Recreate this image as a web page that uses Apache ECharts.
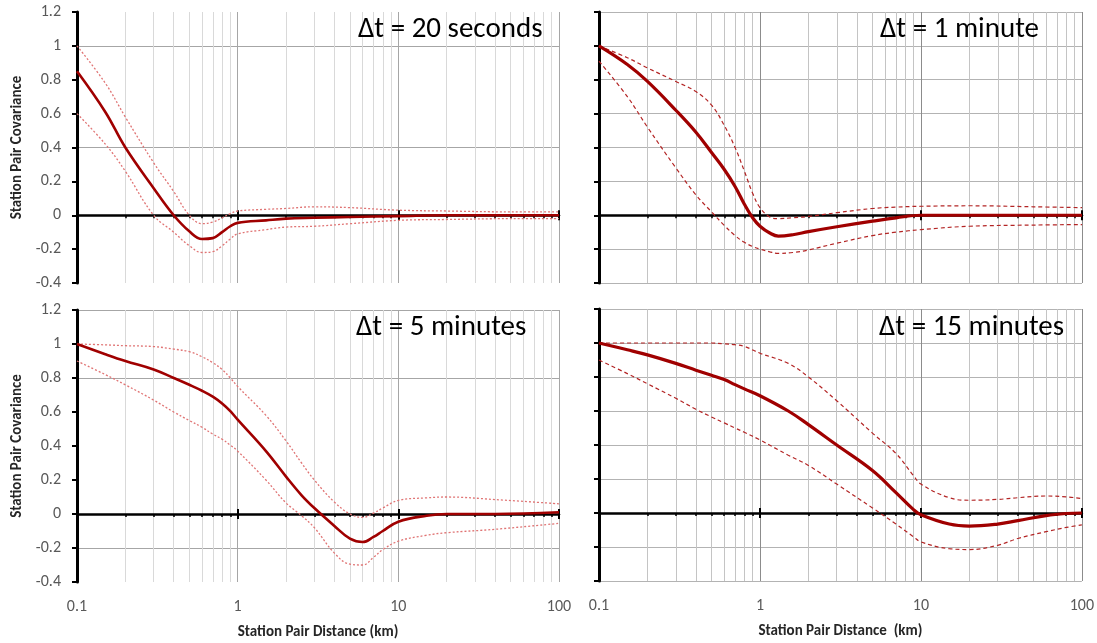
<!DOCTYPE html>
<html>
<head>
<meta charset="utf-8">
<title>Station Pair Covariance</title>
<script src="https://cdn.jsdelivr.net/npm/echarts@6/dist/echarts.min.js"></script>
<style>
  html, body { margin: 0; padding: 0; background: #fff; }
  #chart { width: 1097px; height: 643px; }
</style>
</head>
<body>
<div id="chart"></div>
<script>
// ---- data ----
var xRange = [0.1, 100];
var yRange = [-0.4, 1.2];
var yStep = 0.2;

var panelTitles = ['\u0394t = 20 seconds', '\u0394t = 1 minute', '\u0394t = 5 minutes', '\u0394t = 15 minutes'];
var xAxisTitles = ['Station Pair Distance (km)', 'Station Pair Distance  (km)'];
var yAxisTitle = 'Station Pair Covariance';

// dt = 20 seconds
var distA  = [0.1, 0.15, 0.2, 0.3, 0.4, 0.5, 0.6, 0.7, 0.8, 0.9, 1, 1.5, 2, 3, 5, 10, 20, 50, 100];
var mainA  = [0.85, 0.61, 0.40, 0.16, 0.0, -0.095, -0.14, -0.135, -0.10, -0.065, -0.045, -0.03, -0.02, -0.015, -0.01, -0.005, 0, 0, 0];
var upperA = [1.0, 0.78, 0.58, 0.31, 0.14, 0.0, -0.05, -0.04, -0.015, 0.01, 0.025, 0.035, 0.04, 0.05, 0.045, 0.03, 0.025, 0.02, 0.02];
var lowerA = [0.6, 0.42, 0.26, 0.0, -0.10, -0.18, -0.22, -0.215, -0.18, -0.14, -0.11, -0.085, -0.07, -0.065, -0.05, -0.03, -0.025, -0.02, -0.02];

// dt = 1 minute
var distB  = [0.1, 0.15, 0.2, 0.3, 0.4, 0.5, 0.6, 0.7, 0.8, 0.9, 1, 1.15, 1.3, 1.6, 2, 3, 5, 7, 10, 20, 50, 100];
var mainB  = [1.0, 0.89, 0.79, 0.62, 0.49, 0.37, 0.27, 0.17, 0.065, -0.015, -0.065, -0.105, -0.123, -0.115, -0.097, -0.068, -0.035, -0.015, 0, 0, 0, 0];
var upperB = [1.0, 0.93, 0.87, 0.79, 0.73, 0.65, 0.53, 0.40, 0.26, 0.13, 0.045, -0.01, -0.02, -0.015, -0.007, 0.015, 0.04, 0.048, 0.053, 0.056, 0.05, 0.045];
var lowerB = [0.91, 0.70, 0.52, 0.28, 0.12, 0.02, -0.06, -0.12, -0.16, -0.185, -0.2, -0.216, -0.225, -0.22, -0.205, -0.165, -0.12, -0.1, -0.085, -0.065, -0.058, -0.055];

// dt = 5 minutes
var distC  = [0.1, 0.15, 0.2, 0.3, 0.4, 0.5, 0.6, 0.7, 0.8, 0.9, 1, 1.5, 2, 2.5, 3, 4, 5, 6, 7, 8, 10, 15, 20, 40, 100];
var mainC  = [1.0, 0.94, 0.90, 0.85, 0.80, 0.76, 0.725, 0.69, 0.65, 0.605, 0.555, 0.37, 0.22, 0.11, 0.035, -0.07, -0.145, -0.165, -0.135, -0.10, -0.045, -0.01, 0, 0, 0.01];
var upperC = [1.0, 0.995, 0.99, 0.985, 0.97, 0.955, 0.925, 0.89, 0.85, 0.80, 0.75, 0.58, 0.43, 0.30, 0.2, 0.07, 0.0, -0.02, 0.005, 0.035, 0.08, 0.095, 0.1, 0.085, 0.06];
var lowerC = [0.9, 0.82, 0.76, 0.67, 0.60, 0.55, 0.51, 0.47, 0.44, 0.405, 0.37, 0.2, 0.065, -0.01, -0.08, -0.23, -0.295, -0.30, -0.255, -0.21, -0.16, -0.125, -0.11, -0.09, -0.055];

// dt = 15 minutes
var distD  = [0.1, 0.15, 0.2, 0.3, 0.4, 0.5, 0.6, 0.7, 0.8, 1, 1.5, 2, 3, 5, 7, 9, 10, 15, 20, 30, 40, 60, 80, 100];
var mainD  = [1.0, 0.96, 0.93, 0.88, 0.84, 0.81, 0.785, 0.755, 0.73, 0.69, 0.60, 0.52, 0.40, 0.25, 0.12, 0.02, -0.01, -0.065, -0.077, -0.065, -0.045, -0.015, -0.003, 0];
var upperD = [1.0, 1.0, 1.0, 1.0, 1.0, 1.0, 0.995, 0.99, 0.98, 0.94, 0.88, 0.80, 0.66, 0.47, 0.35, 0.22, 0.17, 0.09, 0.075, 0.08, 0.09, 0.1, 0.095, 0.085];
var lowerD = [0.9, 0.82, 0.76, 0.675, 0.61, 0.565, 0.53, 0.50, 0.475, 0.43, 0.34, 0.28, 0.17, 0.03, -0.065, -0.14, -0.17, -0.21, -0.215, -0.19, -0.15, -0.11, -0.085, -0.07];

// ---- layout / style ----
var FONT = 'Carlito, Lato, "Open Sans", sans-serif';
var RED = '#a00000';

var panels = [
  { dist: distA, main: mainA, upper: upperA, lower: lowerA, grid: { left: 77, top: 12, width: 482, height: 271 }, left: true, bottom: false, title: { left: 353, top: 10 }, hLines: [4, 7] },
  { dist: distB, main: mainB, upper: upperB, lower: lowerB, grid: { left: 599, top: 12, width: 483, height: 271 }, left: false, bottom: false, title: { left: 875, top: 10 } },
  { dist: distC, main: mainC, upper: upperC, lower: lowerC, grid: { left: 77, top: 310, width: 482, height: 272 }, left: true, bottom: true, title: { left: 351, top: 308 }, hLines: [1, 6, 8] },
  { dist: distD, main: mainD, upper: upperD, lower: lowerD, grid: { left: 599, top: 309, width: 483, height: 272 }, left: false, bottom: true, title: { left: 874, top: 308 } }
];

function pairs(xs, ys) {
  return xs.map(function (x, k) { return [x, ys[k]]; });
}

// colours for the horizontal grid lines, from min to max
function hLineColors(p) {
  var n = Math.round((yRange[1] - yRange[0]) / yStep) + 1;
  var out = [];
  for (var k = 0; k < n; k++) {
    if (!p.hLines) out.push('#b3b3b3');
    else out.push(p.hLines.indexOf(k) >= 0 ? '#a6a6a6' : 'rgba(0,0,0,0)');
  }
  return out;
}

var option = {
  animation: false,
  backgroundColor: '#fff',
  title: [], grid: [], xAxis: [], yAxis: [], series: []
};

panels.forEach(function (p, i) {
  option.grid.push(p.grid);
  option.title.push({
    text: panelTitles[i], left: p.title.left, top: p.title.top,
    textStyle: { fontSize: 29, fontWeight: 'normal', color: '#000', fontFamily: FONT }
  });

  // axis that carries labels and vertical grid lines
  option.xAxis.push({
    type: 'log', logBase: 10, gridIndex: i, min: xRange[0], max: xRange[1], position: 'bottom',
    axisLine: { show: false, onZero: false },
    axisTick: { show: false },
    minorTick: { show: false, splitNumber: 9 },
    axisLabel: { show: p.bottom, color: '#595959', fontSize: 16, margin: 17, fontFamily: FONT },
    name: p.bottom ? xAxisTitles[p.left ? 0 : 1] : '',
    nameLocation: 'middle', nameGap: 43,
    nameTextStyle: { fontSize: 15, fontWeight: 'bold', color: '#262626', fontFamily: FONT },
    splitLine: { show: true, lineStyle: { color: p.left ? '#a6a6a6' : '#8c8c8c', width: 1 } },
    minorSplitLine: { show: true, lineStyle: { color: p.left ? '#d9d9d9' : '#c4c4c4', width: 1 } }
  });
  // black zero line with outward ticks
  option.xAxis.push({
    type: 'log', logBase: 10, gridIndex: i, min: xRange[0], max: xRange[1], position: 'bottom',
    axisLine: { show: true, onZero: true, onZeroAxisIndex: i, lineStyle: { color: '#000', width: 2.5 } },
    axisTick: { show: true, length: 5, lineStyle: { color: '#000', width: 2 } },
    minorTick: { show: true, splitNumber: 9, length: 3, lineStyle: { color: '#000', width: 1.5 } },
    axisLabel: { show: false }, splitLine: { show: false }
  });
  // decade ticks poking above the zero line
  option.xAxis.push({
    type: 'log', logBase: 10, gridIndex: i, min: xRange[0], max: xRange[1], position: 'bottom',
    axisLine: { show: false, onZero: true, onZeroAxisIndex: i },
    axisTick: { show: true, inside: true, length: 5, lineStyle: { color: '#000', width: 2 } },
    axisLabel: { show: false }, splitLine: { show: false }
  });

  option.yAxis.push({
    type: 'value', gridIndex: i, min: yRange[0], max: yRange[1], interval: yStep,
    axisLine: { show: true, onZero: false, lineStyle: { color: '#000', width: 3 } },
    axisTick: { show: true, length: 5, lineStyle: { color: '#000', width: 2 } },
    axisLabel: { show: p.left, color: '#595959', fontSize: 16, margin: 16, fontFamily: FONT },
    name: p.left ? yAxisTitle : '',
    nameLocation: 'middle', nameGap: 52,
    nameTextStyle: { fontSize: 15, fontWeight: 'bold', color: '#262626', fontFamily: FONT },
    splitLine: { show: true, lineStyle: { color: hLineColors(p), width: 1 } }
  });

  var bound = p.left
    ? { color: '#e07474', width: 1.3, type: [2, 2] }
    : { color: '#b32424', width: 1.2, type: [4, 3] };

  [p.upper, p.lower].forEach(function (ys) {
    option.series.push({
      type: 'line', xAxisIndex: i * 3, yAxisIndex: i, data: pairs(p.dist, ys),
      showSymbol: false, symbol: 'none', smooth: 0.4, z: 3,
      lineStyle: bound
    });
  });
  option.series.push({
    type: 'line', xAxisIndex: i * 3, yAxisIndex: i, data: pairs(p.dist, p.main),
    showSymbol: false, symbol: 'none', smooth: 0.4, z: 4,
    lineStyle: { color: RED, width: p.left ? 2.6 : 3.2 }
  });
});

var chart = echarts.init(document.getElementById('chart'), null, { renderer: 'canvas' });
chart.setOption(option);
</script>
</body>
</html>
